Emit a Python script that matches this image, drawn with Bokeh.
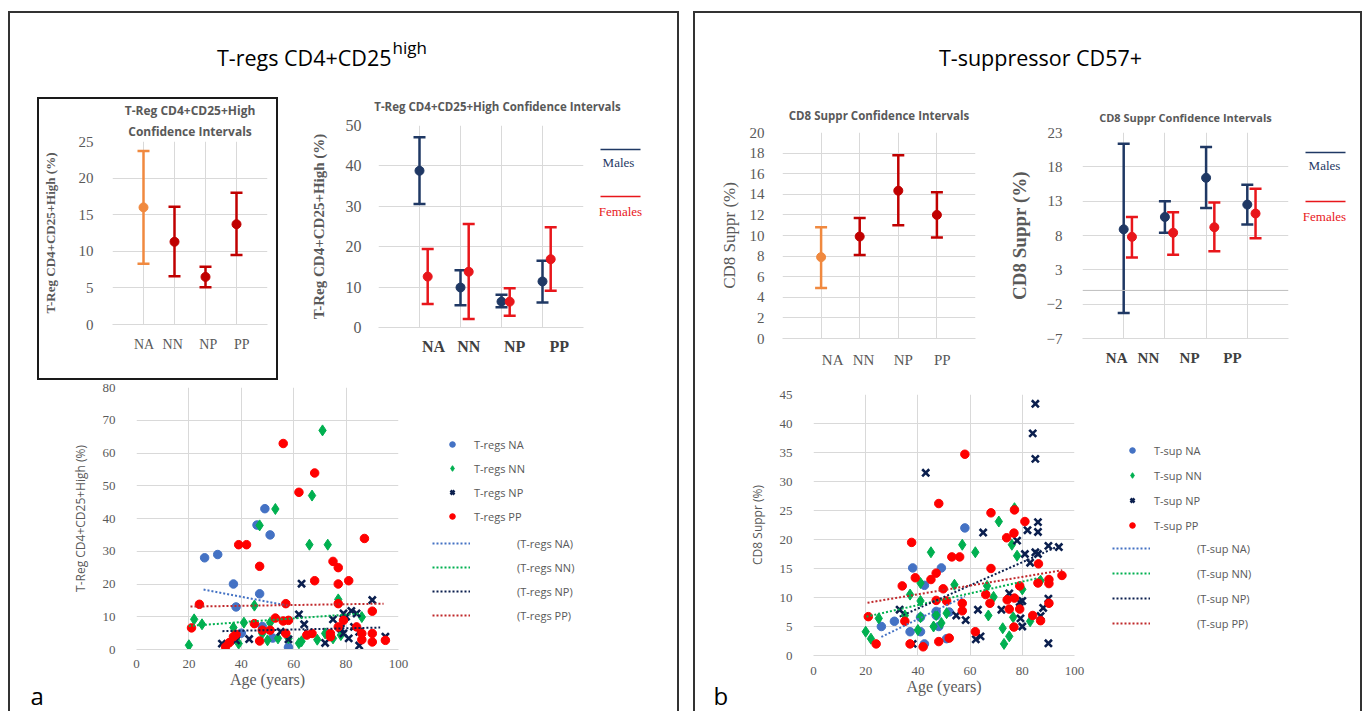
import numpy as np
from bokeh.plotting import figure
from bokeh.models import (Range1d, FixedTicker, Label, Legend, LegendItem, Whisker, TeeHead,
                          ColumnDataSource, Span, Spacer, CustomJSTickFormatter, Title)
from bokeh.layouts import row, column
from bokeh.embed import file_html
from bokeh.resources import INLINE

# ------------------------------------------------------------------ data
groups = ["NA", "NN", "NP", "PP"]

# Panel a: T-regs CD4+CD25high, all subjects (mean and 95% CI)
treg_mean = [16.0, 11.3, 6.5, 13.7]
treg_lo = [8.3, 6.6, 5.1, 9.5]
treg_hi = [23.7, 16.1, 7.9, 18.0]
# by sex
treg_m_mean = [38.8, 9.9, 6.4, 11.4]
treg_m_lo = [30.6, 5.5, 5.0, 6.2]
treg_m_hi = [47.1, 14.2, 8.1, 16.5]
treg_f_mean = [12.6, 13.8, 6.4, 16.9]
treg_f_lo = [5.8, 2.1, 2.9, 9.1]
treg_f_hi = [19.4, 25.6, 9.7, 24.8]

# Panel b: CD8 suppressor CD57+ (mean and 95% CI)
sup_mean = [7.9, 9.9, 14.35, 12.0]
sup_lo = [4.9, 8.1, 11.0, 9.8]
sup_hi = [10.8, 11.7, 17.8, 14.2]
sup_m_mean = [8.9, 10.7, 16.4, 12.5]
sup_m_lo = [-3.3, 8.4, 12.0, 9.6]
sup_m_hi = [21.35, 13.0, 20.9, 15.4]
sup_f_mean = [7.8, 8.4, 9.2, 11.2]
sup_f_lo = [4.8, 5.2, 5.7, 7.6]
sup_f_hi = [10.7, 11.4, 12.8, 14.8]

# Scatter a: T-regs vs age
treg_na_age = [26, 31, 37, 38, 49, 46, 51, 47, 48, 58, 52, 40]
treg_na_val = [28, 29, 20, 13, 43, 38, 35, 17, 7, 0.7, 3.5, 5]
treg_nn_age = [20, 22, 25, 37, 41, 45, 47, 53, 51, 66, 67, 71, 73, 77, 86, 62, 63, 69, 72, 75,
               50, 39, 54, 58, 48, 78]
treg_nn_val = [1.3, 9.2, 7.7, 6.7, 8.2, 13.4, 37.9, 42.9, 8.2, 32, 47, 66.9, 32, 15.3, 9.9, 1.9,
               2.5, 3.0, 4.9, 3.4, 2.8, 1.8, 3.4, 3.4, 4.9, 4.4]
treg_np_age = [32.6, 38, 43, 55, 58, 63, 62, 64, 65.5, 72, 75, 79, 80, 82, 84, 90, 79, 81, 85, 85,
               83, 95, 78]
treg_np_val = [1.8, 2.8, 3.2, 5.4, 3.1, 20.1, 10.7, 7.7, 4.9, 2.0, 9.2, 11, 10, 11.8, 11, 15.1,
               4.9, 3.4, 5.4, 1.2, 6.9, 3.9, 6.4]
treg_pp_age = [21, 24, 34, 35.4, 37, 38, 39, 42, 47, 47, 45, 48, 51, 53, 56, 57, 56, 58, 57, 62,
               68, 68, 65, 67, 75, 77, 77, 81, 87, 77, 79, 77, 74, 74, 84, 86, 86, 90, 90, 90, 95]
treg_pp_val = [6.6, 13.8, 0.8, 2.1, 3.9, 4.6, 32, 32, 25.4, 2.6, 7.9, 5.9, 5.9, 9.6, 62.9, 14,
               8.7, 8.9, 4.9, 48, 53.9, 21, 4.4, 4.9, 26.9, 25, 20, 21, 33.9, 14, 8.9, 6.9, 4.9,
               3.9, 6.9, 4.9, 3, 11.7, 4.9, 2.3, 2.8]
# linear trendlines (end points)
treg_trend_na = ([25.6, 57.6], [18.3, 13.4])
treg_trend_nn = ([20.0, 86.0], [7.2, 11.0])
treg_trend_np = ([32.8, 93.0], [5.6, 6.7])
treg_trend_pp = ([20.6, 94.3], [13.1, 14.0])

# Scatter b: CD8 suppr vs age
sup_na_age = [26, 31, 37, 38, 41, 41, 42.5, 42.5, 47, 48, 49, 52, 51, 58, 47]
sup_na_val = [5.0, 5.9, 4.1, 15.1, 6.6, 4.1, 12.1, 2.0, 6.9, 5.0, 15.1, 7.5, 2.9, 22.0, 7.6]
sup_nn_age = [20, 22, 25, 35, 37, 40, 41, 41, 41, 45, 46, 47, 49, 51, 54, 57, 62, 66.5, 67, 69,
              71, 72.5, 73, 75, 76, 77, 76.5, 78, 80, 83, 87]
sup_nn_val = [4.1, 2.9, 6.4, 6.9, 10.5, 4.4, 12.5, 9.4, 6.6, 17.8, 5.0, 7.0, 5.6, 7.3, 12.2, 19.1,
              17.8, 12.0, 6.9, 10.1, 23.1, 4.7, 2.0, 3.3, 19.1, 25.4, 6.6, 17.2, 11.4, 5.9, 12.9]
sup_np_age = [33, 38, 43, 54.7, 58.3, 62.2, 64, 63, 65, 72, 75, 78, 79, 79.3, 80, 80, 81, 82, 83,
              84, 85, 85, 85, 86, 86, 86, 87, 88, 90, 90, 90, 94]
sup_np_val = [7.9, 2.0, 31.5, 6.9, 6.1, 2.8, 3.3, 7.9, 21.2, 7.9, 10.7, 19.8, 9.2, 6.4, 9.4, 5.0,
              17.5, 21.6, 16.0, 38.3, 43.4, 33.9, 17.8, 23.0, 21.3, 17.5, 6.8, 8.2, 18.9, 9.8,
              2.1, 18.7]
sup_pp_age = [21, 24, 34, 35, 37.6, 37, 39, 42, 45, 47, 48, 48, 47, 49.7, 51, 52, 53, 56, 57, 57,
              58, 62, 66, 68, 68, 67.6, 74, 74.2, 75, 77, 76.8, 77, 76.8, 79, 79, 81, 84, 86,
              86.2, 87, 90.2, 90.2, 90.2, 95.2]
sup_pp_val = [6.7, 2.0, 12.0, 5.9, 19.5, 2.0, 13.4, 1.5, 13.1, 14.2, 26.2, 2.4, 9.5, 11.5, 9.4,
              3.0, 17.0, 17.0, 9.0, 7.7, 34.7, 4.1, 10.5, 24.6, 15.0, 9.0, 20.3, 9.6, 8.0, 25.1,
              21.1, 9.9, 4.9, 12.0, 8.0, 23.1, 6.9, 12.5, 15.8, 6.0, 13.1, 12.4, 9.0, 13.8]
sup_trend_na = ([26.0, 58.0], [3.2, 10.2])
sup_trend_nn = ([20.3, 87.6], [6.7, 13.5])
sup_trend_np = ([33.0, 94.6], [6.7, 19.0])
sup_trend_pp = ([20.7, 95.3], [9.1, 14.7])

# ------------------------------------------------------------------ styles
SANS = "Open Sans"
SERIF = "Liberation Serif"
GRID = "#D9D9D9"
TXT = "#595959"
ORANGE = "#F0893F"
DARKRED = "#C00000"
MALE = "#1F3864"
FEMALE = "#E8161B"
C_NA, C_NN, C_NP, C_PP = "#4472C4", "#00B050", "#0B1F4E", "#FF0000"
TREND_COLORS = ["#4472C4", "#00B050", "#0B1F4E", "#C0282B"]

pos = np.arange(1, len(groups) + 1)


def base_fig(fw, fh, left, right, top, bottom, xr, yr):
    p = figure(width=left + fw + right, height=top + fh + bottom, x_range=xr, y_range=yr,
               output_backend="svg", toolbar_location=None,
               min_border_left=left, min_border_right=right,
               min_border_top=top, min_border_bottom=bottom)
    p.outline_line_color = None
    p.grid.grid_line_color = GRID
    p.grid.grid_line_width = 1
    p.xaxis.axis_line_color = GRID
    p.yaxis.axis_line_color = None
    for ax in (p.xaxis, p.yaxis):
        ax.major_tick_line_color = None
        ax.minor_tick_line_color = None
        ax.major_label_text_color = TXT
        ax.axis_label_text_color = TXT
    return p


def blank_fig(W, H):
    """A figure without axes whose frame is the whole canvas, in pixel-like units."""
    f = figure(width=W, height=H, x_range=Range1d(0, W), y_range=Range1d(0, H),
               x_axis_type=None, y_axis_type=None, output_backend="svg",
               toolbar_location=None, min_border=0)
    f.outline_line_color = None
    return f


def cat_formatter(label_pos):
    return CustomJSTickFormatter(
        args=dict(pos=list(label_pos), names=groups),
        code="for (let i = 0; i < pos.length; i++) { if (Math.abs(pos[i] - tick) < 1e-6) return names[i]; } return '';")


def ci_fig(fw, fh, left, right, top, bottom, ymin, ymax, ystep, label_pos,
           tick_size, xlab_size, xlab_bold, xlab_color, ylabel, ylab_size, ylab_bold,
           ylab_standoff, ytick_standoff, xtick_standoff):
    p = base_fig(fw, fh, left, right, top, bottom, Range1d(0, 5), Range1d(ymin, ymax))
    p.yaxis.ticker = FixedTicker(ticks=list(range(ymin, ymax + 1, ystep)))
    p.ygrid.ticker = FixedTicker(ticks=list(range(ymin, ymax + 1, ystep)))
    p.xaxis.ticker = FixedTicker(ticks=list(label_pos))
    p.xgrid.ticker = FixedTicker(ticks=[1, 2, 3, 4, 5])
    p.xaxis.formatter = cat_formatter(label_pos)
    p.yaxis.major_label_text_font = SERIF
    p.yaxis.major_label_text_font_size = tick_size
    p.yaxis.major_label_standoff = ytick_standoff
    p.xaxis.major_label_text_font = SERIF
    p.xaxis.major_label_text_font_size = xlab_size
    p.xaxis.major_label_text_font_style = "bold" if xlab_bold else "normal"
    p.xaxis.major_label_text_color = xlab_color
    p.xaxis.major_label_standoff = xtick_standoff
    p.yaxis.axis_label = ylabel
    p.yaxis.axis_label_text_font = SERIF
    p.yaxis.axis_label_text_font_size = ylab_size
    p.yaxis.axis_label_text_font_style = "bold" if ylab_bold else "normal"
    p.yaxis.axis_label_standoff = ylab_standoff
    return p


def draw_ci(p, xs, mean, lo, hi, color):
    src = ColumnDataSource(dict(x=list(xs), m=list(mean), lo=list(lo), hi=list(hi)))
    p.add_layout(Whisker(source=src, base="x", lower="lo", upper="hi",
                         line_color=color, line_width=2.5,
                         lower_head=TeeHead(size=12, line_color=color, line_width=2.5),
                         upper_head=TeeHead(size=12, line_color=color, line_width=2.5)))
    p.scatter("x", "m", source=src, size=9, color=color)


def add_titles(p, lines, size, standoff):
    # first line given is the top one; Titles added later sit further from the frame
    for i, text in enumerate(reversed(lines)):
        p.add_layout(Title(text=text, align="center", text_font=SANS, text_font_style="bold",
                           text_font_size=size, text_color=TXT,
                           standoff=standoff if i == 0 else 0), "above")


def sex_legend_fig(W, H, x0, x1, ym, yt_m, yf, yt_f, xt_m, xt_f):
    f = blank_fig(W, H)
    for yl, yt, xt, color, name in ((ym, yt_m, xt_m, MALE, "Males"), (yf, yt_f, xt_f, FEMALE, "Females")):
        f.segment(x0=[x0], y0=[yl], x1=[x1], y1=[yl], line_color=color, line_width=1.5)
        f.add_layout(Label(x=xt, y=yt, text=name, text_align="center", text_baseline="middle",
                           text_font=SERIF, text_font_size="13px", text_color=color))
    return f


def scatter_fig(fw, fh, left, right, top, bottom, ymax, ystep, ylabel, series, trends,
                xtick_standoff):
    p = base_fig(fw, fh, left, right, top, bottom, Range1d(0, 100), Range1d(0, ymax))
    p.xaxis.ticker = FixedTicker(ticks=list(range(0, 101, 20)))
    p.yaxis.ticker = FixedTicker(ticks=list(range(0, ymax + 1, ystep)))
    for ax in (p.xaxis, p.yaxis):
        ax.major_label_text_font = SERIF
        ax.major_label_text_font_size = "13px"
    p.yaxis.major_label_standoff = 15
    p.xaxis.major_label_standoff = xtick_standoff
    p.xaxis.axis_label = "Age (years)"
    p.xaxis.axis_label_text_font = SERIF
    p.xaxis.axis_label_text_font_size = "16px"
    p.xaxis.axis_label_text_font_style = "normal"
    p.xaxis.axis_label_standoff = 0
    p.yaxis.axis_label = ylabel
    p.yaxis.axis_label_text_font = SANS
    p.yaxis.axis_label_text_font_size = "12px"
    p.yaxis.axis_label_text_font_style = "normal"
    p.yaxis.axis_label_standoff = 11

    (na_x, na_y), (nn_x, nn_y), (np_x, np_y), (pp_x, pp_y) = series
    p.scatter(na_x, na_y, marker="circle", size=8.5, color=C_NA)
    p.scatter(nn_x, nn_y, marker="diamond", size=11, color=C_NN)
    p.scatter(np_x, np_y, marker="x", size=10, line_color=C_NP, line_width=2.6)
    p.scatter(pp_x, pp_y, marker="circle", size=8.5, color=C_PP)
    for (tx, ty), c in zip(trends, TREND_COLORS):
        p.line(tx, ty, line_color=c, line_width=2, line_dash="2 2")
    return p


def scatter_legend_fig(W, H, names, loc1, loc2, spacing):
    f = blank_fig(W, H)
    nan = np.array([np.nan])
    r_na = f.scatter(nan, nan, marker="circle", size=8.5, color=C_NA)
    r_nn = f.scatter(nan, nan, marker="diamond", size=11, color=C_NN)
    r_np = f.scatter(nan, nan, marker="x", size=10, line_color=C_NP, line_width=2.6)
    r_pp = f.scatter(nan, nan, marker="circle", size=8.5, color=C_PP)
    t_r = [f.line(nan, nan, line_color=c, line_width=2, line_dash="2 2") for c in TREND_COLORS]
    common = dict(padding=0, margin=0, border_line_color=None, background_fill_alpha=0,
                  label_text_font=SANS, label_text_font_size="11px", label_text_color=TXT,
                  glyph_height=20, label_height=20, spacing=spacing)
    f.add_layout(Legend(items=[LegendItem(label=n, renderers=[r]) for n, r in
                               zip(names, [r_na, r_nn, r_np, r_pp])],
                        location=loc1, glyph_width=14, label_standoff=15, **common))
    f.add_layout(Legend(items=[LegendItem(label="(" + n + ")", renderers=[r]) for n, r in
                               zip(names, t_r)],
                        location=loc2, glyph_width=38, label_standoff=47, **common))
    return f


def letter_fig(letter, x):
    f = blank_fig(50, 331)
    f.add_layout(Label(x=x, y=16, text=letter, text_font=SANS, text_font_size="24px",
                       text_color="#000000", text_align="left", text_baseline="alphabetic"))
    return column(f)


# ------------------------------------------------------------------ panel a
head_a = blank_fig(667, 82)
head_a.add_layout(Label(x=381, y=38, text="T-regs CD4+CD25", text_align="right",
                        text_baseline="alphabetic", text_font=SANS, text_font_size="21.5px",
                        text_color="#000000"))
head_a.add_layout(Label(x=382, y=48, text="high", text_align="left",
                        text_baseline="alphabetic", text_font=SANS, text_font_size="17px",
                        text_color="#000000"))

small_a = ci_fig(162, 186, 66, 9, 39, 54, 0, 25, 5, [1.02, 1.94, 3.09, 4.17],
                 "15px", "14px", False, TXT, "T-Reg CD4+CD25+High (%)", "13px", True,
                 18, 13, 6)
draw_ci(small_a, pos[:1], treg_mean[:1], treg_lo[:1], treg_hi[:1], ORANGE)
draw_ci(small_a, pos[1:], treg_mean[1:], treg_lo[1:], treg_hi[1:], DARKRED)
add_titles(small_a, ["T-Reg CD4+CD25+High", "Confidence Intervals"], "12px", 4)
small_box = column(small_a, width=241, height=283,
                   styles={"border": "2px solid #1a1a1a", "box-sizing": "border-box"})

title_sex_a = blank_fig(387, 20)
title_sex_a.add_layout(Label(x=207, y=9, text="T-Reg CD4+CD25+High Confidence Intervals",
                             text_align="center", text_baseline="middle", text_font=SANS,
                             text_font_style="bold", text_font_size="11.5px", text_color=TXT))
sex_a = ci_fig(205, 202, 88, 10, 10, 53, 0, 50, 10, [1.34, 2.2, 3.32, 4.41],
               "16px", "16px", True, "#404040", "T-Reg CD4+CD25+High (%)", "15px", True,
               16, 11, 4)
draw_ci(sex_a, pos, treg_m_mean, treg_m_lo, treg_m_hi, MALE)
draw_ci(sex_a, pos + 0.2, treg_f_mean, treg_f_lo, treg_f_hi, FEMALE)
leg_sex_a = sex_legend_fig(84, 265, 7, 47, 231, 218, 184, 169, 25, 27)

scat_a = scatter_fig(262, 262, 76, 12, 7, 62, 80, 10, "T-Reg CD4+CD25+High (%)",
                     [(treg_na_age, treg_na_val), (treg_nn_age, treg_nn_val),
                      (treg_np_age, treg_np_val), (treg_pp_age, treg_pp_val)],
                     [treg_trend_na, treg_trend_nn, treg_trend_np, treg_trend_pp], 4)
leg_a = scatter_legend_fig(267, 331, ["T-regs NA", "T-regs NN", "T-regs NP", "T-regs PP"],
                           (35, 185), (22, 86), 4)

panel_a = column(row(head_a),
                 row(Spacer(width=27), column(Spacer(height=2), small_box), Spacer(width=12),
                     column(row(title_sex_a), row(sex_a, column(leg_sex_a)))),
                 row(letter_fig("a", 20), scat_a, column(leg_a)),
                 width=671, height=700,
                 styles={"border": "2px solid #333333", "border-bottom": "none",
                         "box-sizing": "border-box"})

# ------------------------------------------------------------------ panel b
head_b = blank_fig(665, 82)
head_b.add_layout(Label(x=345, y=38, text="T-suppressor CD57+", text_align="center",
                        text_baseline="alphabetic", text_font=SANS, text_font_size="21.5px",
                        text_color="#000000"))

ci_b = ci_fig(193, 209, 87, 25, 37, 39, 0, 20, 2, [1.30, 2.10, 3.13, 4.14],
              "15px", "15px", False, TXT, "CD8 Suppr (%)", "17px", False, 8, 12, 7)
draw_ci(ci_b, pos[:1], sup_mean[:1], sup_lo[:1], sup_hi[:1], ORANGE)
draw_ci(ci_b, pos[1:], sup_mean[1:], sup_lo[1:], sup_hi[1:], DARKRED)
add_titles(ci_b, ["CD8 Suppr Confidence Intervals"], "11.5px", 19)

sex_b = ci_fig(206, 211, 82, 10, 32, 42, -7, 23, 5, [0.83, 1.60, 2.60, 3.64],
               "15px", "15px", True, "#404040", "CD8 Suppr (%)", "19px", True, 14, 14, 5)
sex_b.add_layout(Span(location=0, dimension="width", line_color="#BFBFBF", line_width=1))
draw_ci(sex_b, pos, sup_m_mean, sup_m_lo, sup_m_hi, MALE)
draw_ci(sex_b, pos + 0.2, sup_f_mean, sup_f_lo, sup_f_hi, FEMALE)
add_titles(sex_b, ["CD8 Suppr Confidence Intervals"], "11px", 15)
leg_sex_b = sex_legend_fig(62, 285, 7, 47, 228, 215, 179, 164, 26, 26)

scat_b = scatter_fig(261, 261, 68, 12, 14, 56, 45, 5, "CD8 Suppr (%)",
                     [(sup_na_age, sup_na_val), (sup_nn_age, sup_nn_val),
                      (sup_np_age, sup_np_val), (sup_pp_age, sup_pp_val)],
                     [sup_trend_na, sup_trend_nn, sup_trend_np, sup_trend_pp], 5)
leg_b = scatter_legend_fig(274, 331, ["T-sup NA", "T-sup NN", "T-sup NP", "T-sup PP"],
                           (39, 176), (26, 78), 5)

panel_b = column(row(head_b),
                 row(ci_b, sex_b, column(leg_sex_b)),
                 row(letter_fig("b", 18), scat_b, column(leg_b)),
                 width=669, height=700,
                 styles={"border": "2px solid #333333", "border-bottom": "none",
                         "box-sizing": "border-box"})

page = column(Spacer(height=11), row(Spacer(width=8), panel_a, Spacer(width=14), panel_b))

open("out.html", "w").write(file_html(page, INLINE, title="T-regs and T-suppressor"))
